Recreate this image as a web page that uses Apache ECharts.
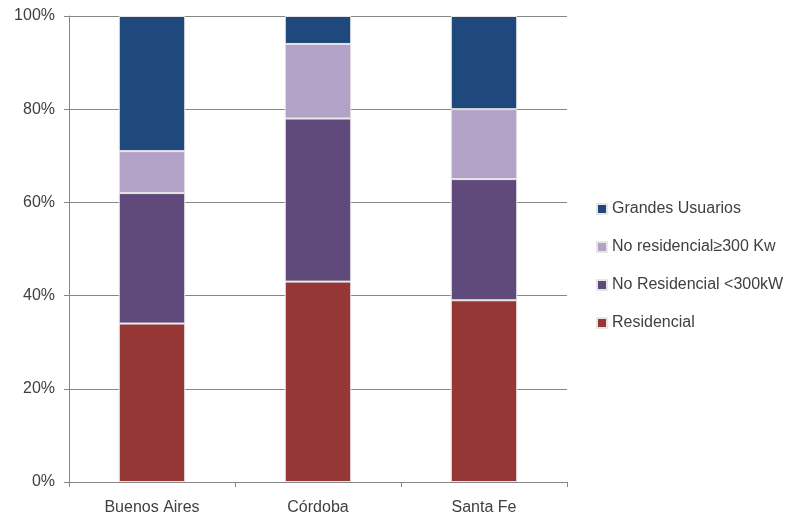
<!DOCTYPE html>
<html>
<head>
<meta charset="utf-8">
<script src="https://cdn.jsdelivr.net/npm/echarts@6/dist/echarts.min.js"></script>
<style>
  html, body { margin: 0; padding: 0; background: #fff; }
  #chart { width: 791px; height: 518px; }
</style>
</head>
<body>
<div id="chart"></div>
<script>
var categories = ['Buenos Aires', 'Córdoba', 'Santa Fe'];
var residencial = [34, 43, 39];
var noResMenor = [28, 35, 26];
var noResMayor = [9, 16, 15];
var grandes = [29, 6, 20];

var chart = echarts.init(document.getElementById('chart'), null, {renderer: 'canvas'});

var font = 'Liberation Sans, Arial, sans-serif';

function bar(name, data, color) {
    return {
        name: name,
        type: 'bar',
        stack: 'total',
        barWidth: '40%',
        data: data,
        itemStyle: {color: color, borderColor: '#e6e6e6', borderWidth: 1},
        emphasis: {disabled: true}
    };
}

chart.setOption({
    animation: false,
    grid: {left: 69, right: 224, top: 16, bottom: 36},
    legend: {
        orient: 'vertical',
        left: 591,
        top: 196,
        itemWidth: 10,
        itemHeight: 10,
        itemGap: 22,
        icon: 'rect',
        textStyle: {fontFamily: font, fontSize: 16, color: '#404040'},
        data: ['Grandes Usuarios', 'No residencial≥300 Kw', 'No Residencial <300kW', 'Residencial']
    },
    xAxis: {
        type: 'category',
        data: categories,
        axisLine: {lineStyle: {color: '#868686'}},
        axisTick: {show: true, length: 5, lineStyle: {color: '#868686'}},
        axisLabel: {fontFamily: font, fontSize: 16, color: '#404040', margin: 18}
    },
    yAxis: {
        type: 'value',
        min: 0,
        max: 100,
        interval: 20,
        axisLine: {show: true, lineStyle: {color: '#868686'}},
        axisTick: {show: true, length: 5, lineStyle: {color: '#868686'}},
        axisLabel: {fontFamily: font, fontSize: 16, color: '#404040', margin: 14, formatter: '{value}%'},
        splitLine: {lineStyle: {color: '#868686'}}
    },
    series: [
        bar('Residencial', residencial, '#953735'),
        bar('No Residencial <300kW', noResMenor, '#604A7B'),
        bar('No residencial≥300 Kw', noResMayor, '#B3A2C7'),
        bar('Grandes Usuarios', grandes, '#1F497D')
    ]
});
</script>
</body>
</html>
